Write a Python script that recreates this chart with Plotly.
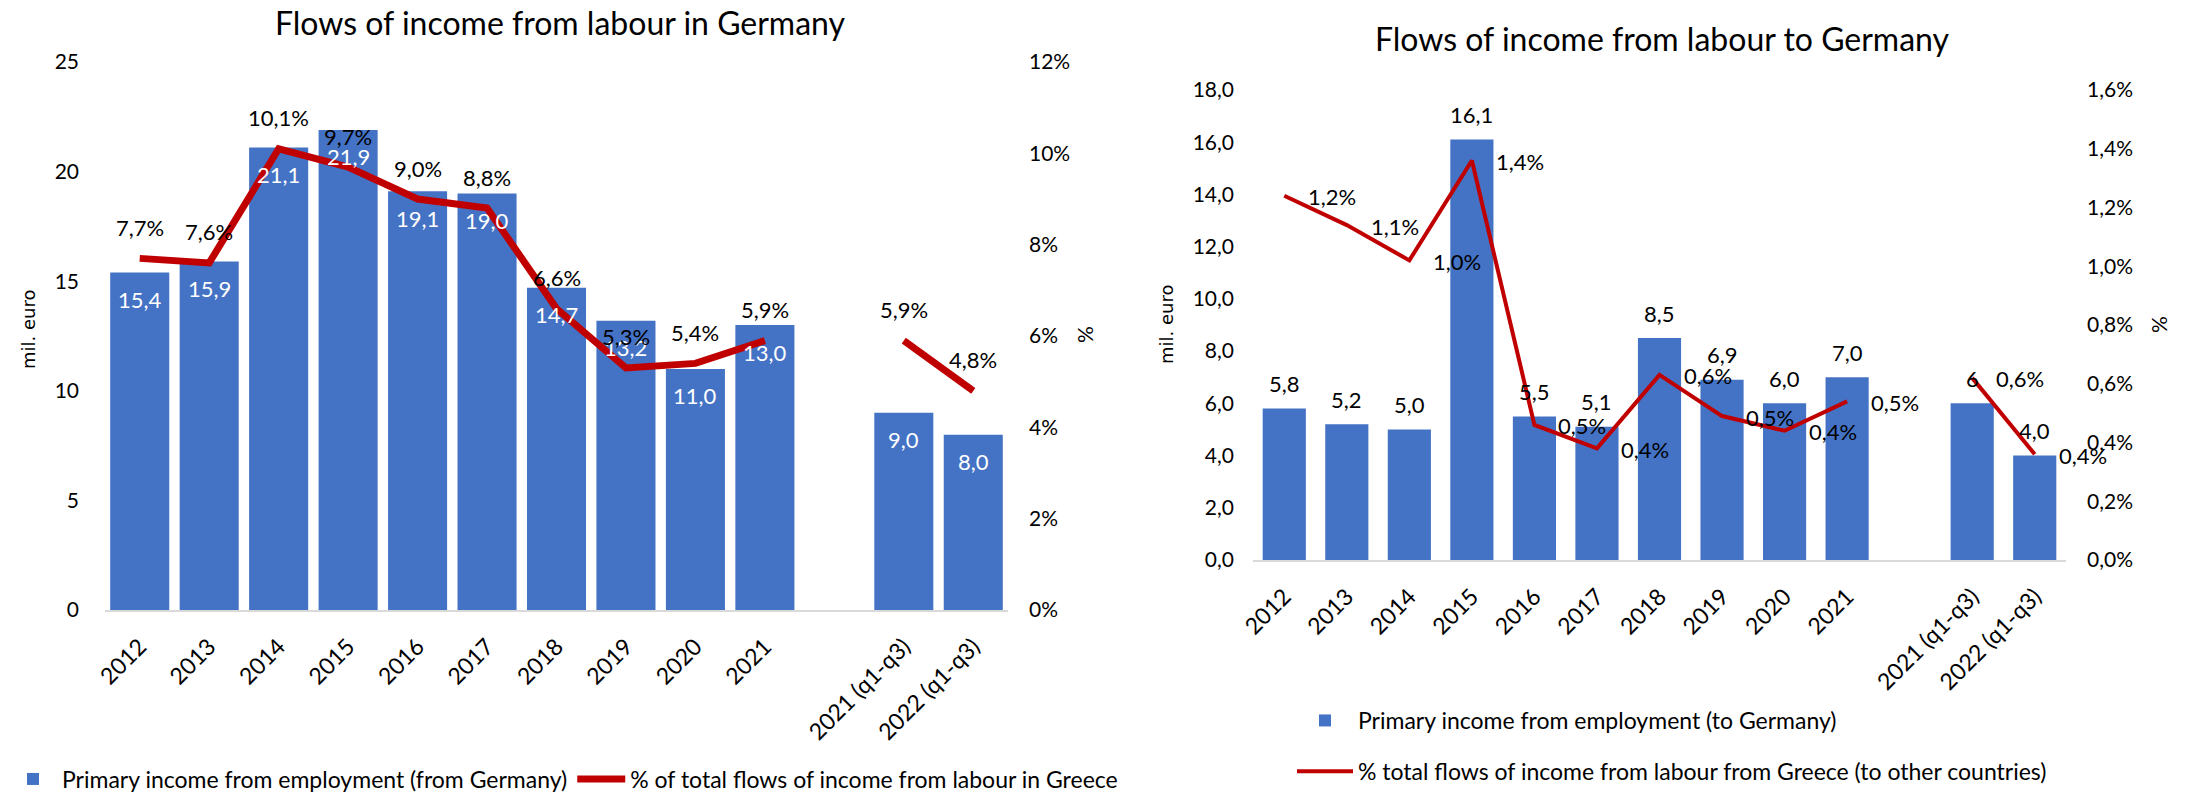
import plotly.graph_objects as go

# ---------------- data ----------------
categories = ["2012", "2013", "2014", "2015", "2016", "2017", "2018", "2019",
              "2020", "2021", " ", "2021 (q1-q3)", "2022 (q1-q3)"]

# Left chart: flows of income from labour in Germany
left_bars = [15.4, 15.9, 21.1, 21.9, 19.1, 19.0, 14.7, 13.2, 11.0, 13.0, None, 9.0, 8.0]
left_pct = [7.7, 7.6, 10.1, 9.7, 9.0, 8.8, 6.6, 5.3, 5.4, 5.9, None, 5.9, 4.8]

# Right chart: flows of income from labour to Germany
right_bars = [5.8, 5.2, 5.0, 16.1, 5.5, 5.1, 8.5, 6.9, 6.0, 7.0, None, 6.0, 4.0]
right_bar_labels = ["5,8", "5,2", "5,0", "16,1", "5,5", "5,1", "8,5", "6,9",
                    "6,0", "7,0", "", "6", "4,0"]
right_pct = [1.24, 1.14, 1.02, 1.36, 0.46, 0.38, 0.63, 0.49, 0.44, 0.54, None, 0.62, 0.36]

left_title = "Flows of income from labour in Germany"
right_title = "Flows of income from labour to Germany"
left_bar_name = "Primary income from employment (from Germany)"
left_line_name = "% of total flows of income from labour in Greece"
right_bar_name = "Primary income from employment (to Germany)"
right_line_name = "% total flows of income from labour from Greece (to other countries)"

# ---------------- styling ----------------
W, H = 2188, 792
BLUE = "#4472C4"
RED = "#C00000"
FONT = "Lato"
LABEL_SIZE = 22


def fx(p):
    return p / W


def fy(p):
    return 1 - p / H


def fmt(v, suffix=""):
    return f"{v:.1f}".replace(".", ",") + suffix


fig = go.Figure()

fig.add_trace(go.Bar(
    x=categories, y=left_bars, name=left_bar_name,
    marker=dict(color=BLUE, line=dict(width=0)), width=0.85,
    xaxis="x", yaxis="y", legend="legend", hoverinfo="skip",
))
fig.add_trace(go.Scatter(
    x=categories, y=left_pct, name=left_line_name, mode="lines",
    line=dict(color=RED, width=7),
    xaxis="x", yaxis="y2", legend="legend", cliponaxis=False, hoverinfo="skip",
))

fig.add_trace(go.Bar(
    x=categories, y=right_bars, name=right_bar_name,
    marker=dict(color=BLUE, line=dict(width=0)), width=0.69,
    xaxis="x2", yaxis="y3", legend="legend2", legendgroup="a",
    cliponaxis=False, hoverinfo="skip",
))
fig.add_trace(go.Scatter(
    x=categories, y=right_pct, name=right_line_name, mode="lines",
    line=dict(color=RED, width=4),
    xaxis="x2", yaxis="y4", legend="legend2", legendgroup="b",
    cliponaxis=False, hoverinfo="skip",
))

annotations = []
# data labels, anchored to each category (by its index on the category axis)
for i, v in enumerate(left_bars):
    if v is not None:
        annotations.append(dict(x=i, y=v, xref="x", yref="y", text=fmt(v),
                                showarrow=False, yshift=-27, yanchor="middle",
                                font=dict(family=FONT, size=LABEL_SIZE, color="white")))
for i, v in enumerate(left_pct):
    if v is not None:
        annotations.append(dict(x=i, y=v, xref="x", yref="y2", text=fmt(v, "%"),
                                showarrow=False, yshift=31, yanchor="middle",
                                font=dict(family=FONT, size=LABEL_SIZE, color="black")))
for i, (v, t) in enumerate(zip(right_bars, right_bar_labels)):
    if v is not None:
        annotations.append(dict(x=i, y=v, xref="x2", yref="y3", text=t,
                                showarrow=False, yshift=25, yanchor="middle",
                                font=dict(family=FONT, size=LABEL_SIZE, color="black")))
for i, v in enumerate(right_pct):
    if v is not None:
        annotations.append(dict(x=i, y=v, xref="x2", yref="y4", text=fmt(v, "%"),
                                showarrow=False, xshift=22, xanchor="left",
                                yshift=-1, yanchor="middle",
                                font=dict(family=FONT, size=LABEL_SIZE, color="black")))

annotations += [
    dict(text=left_title, x=fx(560), y=fy(22), xref="paper", yref="paper",
         showarrow=False, font=dict(family=FONT, size=32, color="black"),
         xanchor="center", yanchor="middle"),
    dict(text=right_title, x=fx(1662), y=fy(38), xref="paper", yref="paper",
         showarrow=False, font=dict(family=FONT, size=32, color="black"),
         xanchor="center", yanchor="middle"),
    dict(text="mil. euro", x=fx(28), y=fy(330), xref="paper", yref="paper",
         showarrow=False, textangle=-90,
         font=dict(family="DejaVu Sans", size=18, color="black"),
         xanchor="center", yanchor="middle"),
    dict(text="mil. euro", x=fx(1166), y=fy(325), xref="paper", yref="paper",
         showarrow=False, textangle=-90,
         font=dict(family="DejaVu Sans", size=18, color="black"),
         xanchor="center", yanchor="middle"),
    dict(text="%", x=fx(1084), y=fy(335), xref="paper", yref="paper",
         showarrow=False, textangle=-90,
         font=dict(family=FONT, size=21, color="black"),
         xanchor="center", yanchor="middle"),
    dict(text="%", x=fx(2158), y=fy(325), xref="paper", yref="paper",
         showarrow=False, textangle=-90,
         font=dict(family=FONT, size=21, color="black"),
         xanchor="center", yanchor="middle"),
]

tickfont = dict(family=FONT, size=21, color="black")
xtickfont = dict(family=FONT, size=23, color="black")

xcommon = dict(type="category", showgrid=False, zeroline=False, showline=True,
               linecolor="#d9d9d9", linewidth=2, ticks="", tickangle=-45,
               tickfont=xtickfont, ticklabelstandoff=12, fixedrange=True,
               automargin=False, range=[-0.5, len(categories) - 0.5],
               categoryorder="array", categoryarray=categories)
ycommon = dict(showgrid=False, zeroline=False, showline=False, ticks="",
               tickfont=tickfont, fixedrange=True, automargin=False)

fig.update_layout(
    width=W, height=H,
    margin=dict(l=0, r=0, t=0, b=0, autoexpand=False),
    paper_bgcolor="white", plot_bgcolor="white",
    separators=",.", font=dict(family=FONT, color="black"),
    xaxis=dict(domain=[fx(105), fx(1008)], anchor="y", **xcommon),
    yaxis=dict(domain=[fy(610), fy(62)], range=[0, 25], dtick=5,
               anchor="x", ticklabelstandoff=25, **ycommon),
    yaxis2=dict(overlaying="y", side="right", range=[0, 12], dtick=2,
                ticksuffix="%", anchor="x", ticklabelstandoff=20, **ycommon),
    xaxis2=dict(domain=[fx(1253), fx(2066)], anchor="y3", **xcommon),
    yaxis3=dict(domain=[fy(560), fy(90)], range=[0, 18], dtick=2,
                tickformat=".1f", anchor="x2", ticklabelstandoff=18, **ycommon),
    yaxis4=dict(overlaying="y3", side="right", range=[0, 1.6], dtick=0.2,
                tickformat=".1f", ticksuffix="%", anchor="x2",
                ticklabelstandoff=20, **ycommon),
    legend=dict(orientation="h", x=fx(4), y=fy(779), xanchor="left",
                yanchor="middle", font=dict(family=FONT, size=23),
                itemwidth=48, bgcolor="rgba(0,0,0,0)"),
    legend2=dict(orientation="v", x=fx(1292), y=fy(746), xanchor="left",
                 yanchor="middle", font=dict(family=FONT, size=23),
                 itemwidth=56, tracegroupgap=18, bgcolor="rgba(0,0,0,0)"),
    showlegend=True,
    annotations=annotations,
)

fig.write_html("out.html", config={"displayModeBar": False, "staticPlot": True},
               post_script="document.body.style.margin='0';document.body.style.overflow='hidden';")
